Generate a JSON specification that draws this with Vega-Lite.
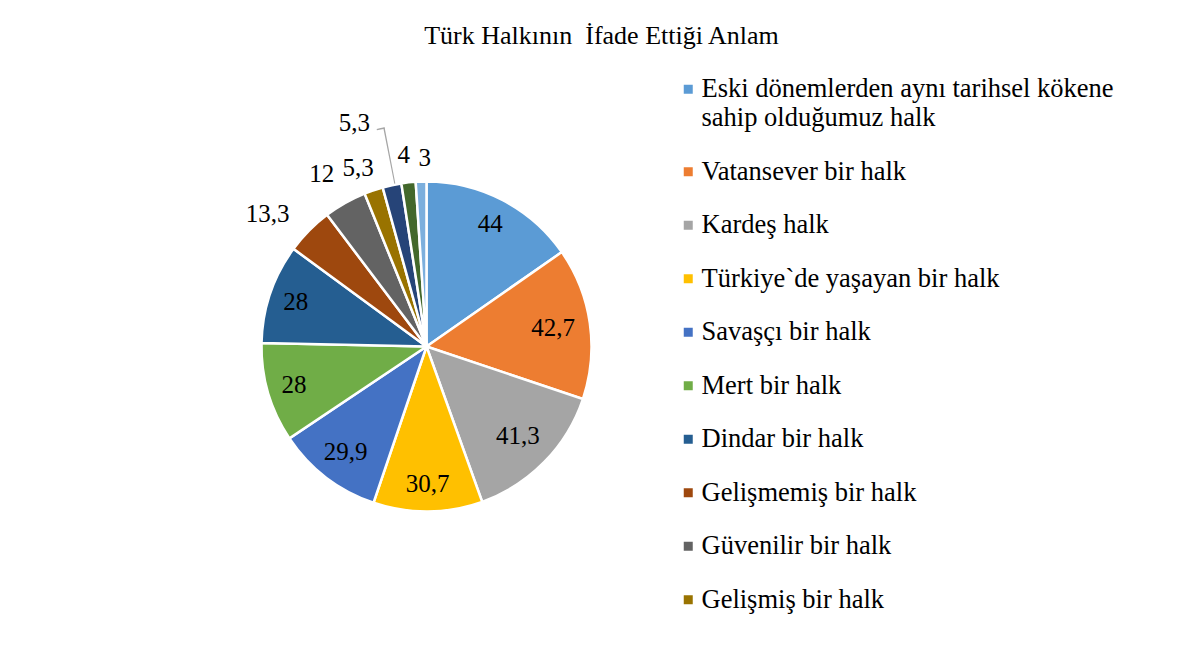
{
  "$schema": "https://vega.github.io/schema/vega-lite/v6.json",
  "autosize": {"type": "none"},
  "width": 853,
  "height": 533,
  "padding": {"left": 0, "top": 80, "right": 344, "bottom": 35},
  "background": "white",
  "config": {
    "view": {"stroke": null},
    "font": "Liberation Serif",
    "style": {"guide-label": {"font": "Liberation Serif", "fontSize": 26.5, "fill": "#000000"}},
    "legend": {"labelFont": "Liberation Serif", "labelFontSize": 26.5, "labelColor": "#000000"},
    "locale": {"number": {"decimal": ",", "thousands": ".", "grouping": [3], "currency": ["", " TL"]}}
  },
  "title": {
    "text": "Türk Halkının\u00a0 İfade Ettiği Anlam",
    "font": "Liberation Serif",
    "fontSize": 26,
    "fontWeight": "normal",
    "color": "#000000",
    "anchor": "middle",
    "dx": 175,
    "offset": 27
  },
  "data": {
    "values": [
      {"k": "Eski dönemlerden aynı tarihsel kökene sahip olduğumuz halk", "v": 44, "o": 1},
      {"k": "Vatansever bir halk", "v": 42.7, "o": 2},
      {"k": "Kardeş halk", "v": 41.3, "o": 3},
      {"k": "Türkiye`de yaşayan bir halk", "v": 30.7, "o": 4},
      {"k": "Savaşçı bir halk", "v": 29.9, "o": 5},
      {"k": "Mert bir halk", "v": 28, "o": 6},
      {"k": "Dindar bir halk", "v": 28, "o": 7},
      {"k": "Gelişmemiş bir halk", "v": 13.3, "o": 8},
      {"k": "Güvenilir bir halk", "v": 12, "o": 9},
      {"k": "Gelişmiş bir halk", "v": 5.3, "o": 10},
      {"k": "Diğer 1", "v": 5.3, "o": 11},
      {"k": "Diğer 2", "v": 4, "o": 12},
      {"k": "Diğer 3", "v": 3, "o": 13}
    ]
  },
  "resolve": {"scale": {"theta": "independent"}},
  "encoding": {
    "theta": {"field": "v", "type": "quantitative", "stack": true},
    "order": {"field": "o", "type": "quantitative"}
  },
  "layer": [
    {
      "mark": {"type": "arc", "outerRadius": 165, "stroke": "white", "strokeWidth": 2.5},
      "encoding": {
        "color": {
          "field": "k",
          "type": "nominal",
          "scale": {
            "domain": ["Eski dönemlerden aynı tarihsel kökene sahip olduğumuz halk", "Vatansever bir halk", "Kardeş halk", "Türkiye`de yaşayan bir halk", "Savaşçı bir halk", "Mert bir halk", "Dindar bir halk", "Gelişmemiş bir halk", "Güvenilir bir halk", "Gelişmiş bir halk", "Diğer 1", "Diğer 2", "Diğer 3"],
            "range": ["#5B9BD5", "#ED7D31", "#A5A5A5", "#FFC000", "#4472C4", "#70AD47", "#255E91", "#9E480E", "#636363", "#997300", "#264478", "#43682B", "#7CAFDD"]
          },
          "legend": {
            "values": ["Eski dönemlerden aynı tarihsel kökene sahip olduğumuz halk", "Vatansever bir halk", "Kardeş halk", "Türkiye`de yaşayan bir halk", "Savaşçı bir halk", "Mert bir halk", "Dindar bir halk", "Gelişmemiş bir halk", "Güvenilir bir halk", "Gelişmiş bir halk"],
            "title": null,
            "orient": "none",
            "legendX": 675,
            "legendY": -4,
            "direction": "vertical",
            "symbolType": "square",
            "symbolSize": 81,
            "symbolStrokeWidth": 0,
            "labelFont": "Liberation Serif",
            "labelFontSize": 26.5,
            "labelColor": "#000000",
            "labelLimit": 600,
            "labelOffset": 0,
            "rowPadding": 26.5,
            "labelExpr": "datum.label == 'Eski dönemlerden aynı tarihsel kökene sahip olduğumuz halk' ? ['Eski dönemlerden aynı tarihsel kökene', 'sahip olduğumuz halk'] : datum.label",
            "encode": {"labels": {"update": {"lineHeight": {"value": 28}, "font": {"value": "Liberation Serif"}, "fontSize": {"value": 26.5}, "fill": {"value": "#000000"}}}}
          }
        }
      }
    },
    {
      "mark": {"type": "text", "radius": 138, "fontSize": 25, "font": "Liberation Serif", "color": "#000000"},
      "encoding": {
        "detail": {"field": "k"},
        "text": {"field": "v", "type": "quantitative", "format": "~g"},
        "opacity": {"condition": {"test": "datum.o == 1 || datum.o == 4 || datum.o == 6 || datum.o == 7", "value": 1}, "value": 0}
      }
    },
    {
      "mark": {"type": "text", "radius": 128, "fontSize": 25, "font": "Liberation Serif", "color": "#000000"},
      "encoding": {
        "detail": {"field": "k"},
        "text": {"field": "v", "type": "quantitative", "format": "~g"},
        "opacity": {"condition": {"test": "datum.o == 2 || datum.o == 3", "value": 1}, "value": 0}
      }
    },
    {
      "mark": {"type": "text", "radius": 133, "fontSize": 25, "font": "Liberation Serif", "color": "#000000"},
      "encoding": {
        "detail": {"field": "k"},
        "text": {"field": "v", "type": "quantitative", "format": "~g"},
        "opacity": {"condition": {"test": "datum.o == 5", "value": 1}, "value": 0}
      }
    },
    {
      "mark": {"type": "text", "radius": 207, "thetaOffset": -0.082, "fontSize": 25, "font": "Liberation Serif", "color": "#000000"},
      "encoding": {
        "detail": {"field": "k"},
        "text": {"field": "v", "type": "quantitative", "format": "~g"},
        "opacity": {"condition": {"test": "datum.o == 8", "value": 1}, "value": 0}
      }
    },
    {
      "mark": {"type": "text", "radius": 202, "thetaOffset": -0.03, "fontSize": 25, "font": "Liberation Serif", "color": "#000000"},
      "encoding": {
        "detail": {"field": "k"},
        "text": {"field": "v", "type": "quantitative", "format": "~g"},
        "opacity": {"condition": {"test": "datum.o == 9", "value": 1}, "value": 0}
      }
    },
    {
      "mark": {"type": "text", "radius": 191, "thetaOffset": -0.04, "fontSize": 25, "font": "Liberation Serif", "color": "#000000"},
      "encoding": {
        "detail": {"field": "k"},
        "text": {"field": "v", "type": "quantitative", "format": "~g"},
        "opacity": {"condition": {"test": "datum.o == 10", "value": 1}, "value": 0}
      }
    },
    {
      "mark": {"type": "text", "radius": 235, "thetaOffset": -0.101, "fontSize": 25, "font": "Liberation Serif", "color": "#000000"},
      "encoding": {
        "detail": {"field": "k"},
        "text": {"field": "v", "type": "quantitative", "format": "~g"},
        "opacity": {"condition": {"test": "datum.o == 11", "value": 1}, "value": 0}
      }
    },
    {
      "mark": {"type": "text", "radius": 193, "thetaOffset": -0.009, "fontSize": 25, "font": "Liberation Serif", "color": "#000000"},
      "encoding": {
        "detail": {"field": "k"},
        "text": {"field": "v", "type": "quantitative", "format": "~g"},
        "opacity": {"condition": {"test": "datum.o == 12", "value": 1}, "value": 0}
      }
    },
    {
      "mark": {"type": "text", "radius": 189, "thetaOffset": 0.023, "fontSize": 25, "font": "Liberation Serif", "color": "#000000"},
      "encoding": {
        "detail": {"field": "k"},
        "text": {"field": "v", "type": "quantitative", "format": "~g"},
        "opacity": {"condition": {"test": "datum.o == 13", "value": 1}, "value": 0}
      }
    },
    {
      "transform": [
        {"joinaggregate": [{"op": "sum", "field": "v", "as": "tot"}]},
        {"window": [{"op": "sum", "field": "v", "as": "cum"}], "sort": [{"field": "o", "order": "ascending"}], "frame": [null, 0]},
        {"filter": "datum.o == 11"},
        {"calculate": "(datum.cum - datum.v / 2) / datum.tot + 0.0025", "as": "t1"},
        {"calculate": "(datum.cum - datum.v / 2) / datum.tot + 0.0035", "as": "t2"}
      ],
      "mark": {"type": "arc", "innerRadius": 166, "outerRadius": 223, "fill": "#A6A6A6"},
      "encoding": {
        "theta": {"field": "t1", "type": "quantitative", "stack": null, "scale": {"domain": [0, 1], "range": [0, 6.283185307179586]}},
        "theta2": {"field": "t2"},
        "order": null
      }
    },
    {
      "transform": [
        {"joinaggregate": [{"op": "sum", "field": "v", "as": "tot"}]},
        {"window": [{"op": "sum", "field": "v", "as": "cum"}], "sort": [{"field": "o", "order": "ascending"}], "frame": [null, 0]},
        {"filter": "datum.o == 11"},
        {"calculate": "(datum.cum - datum.v / 2) / datum.tot - 0.0023", "as": "t1"},
        {"calculate": "(datum.cum - datum.v / 2) / datum.tot + 0.0035", "as": "t2"}
      ],
      "mark": {"type": "arc", "innerRadius": 221.8, "outerRadius": 223.1, "fill": "#A6A6A6"},
      "encoding": {
        "theta": {"field": "t1", "type": "quantitative", "stack": null, "scale": {"domain": [0, 1], "range": [0, 6.283185307179586]}},
        "theta2": {"field": "t2"},
        "order": null
      }
    }
  ]
}
